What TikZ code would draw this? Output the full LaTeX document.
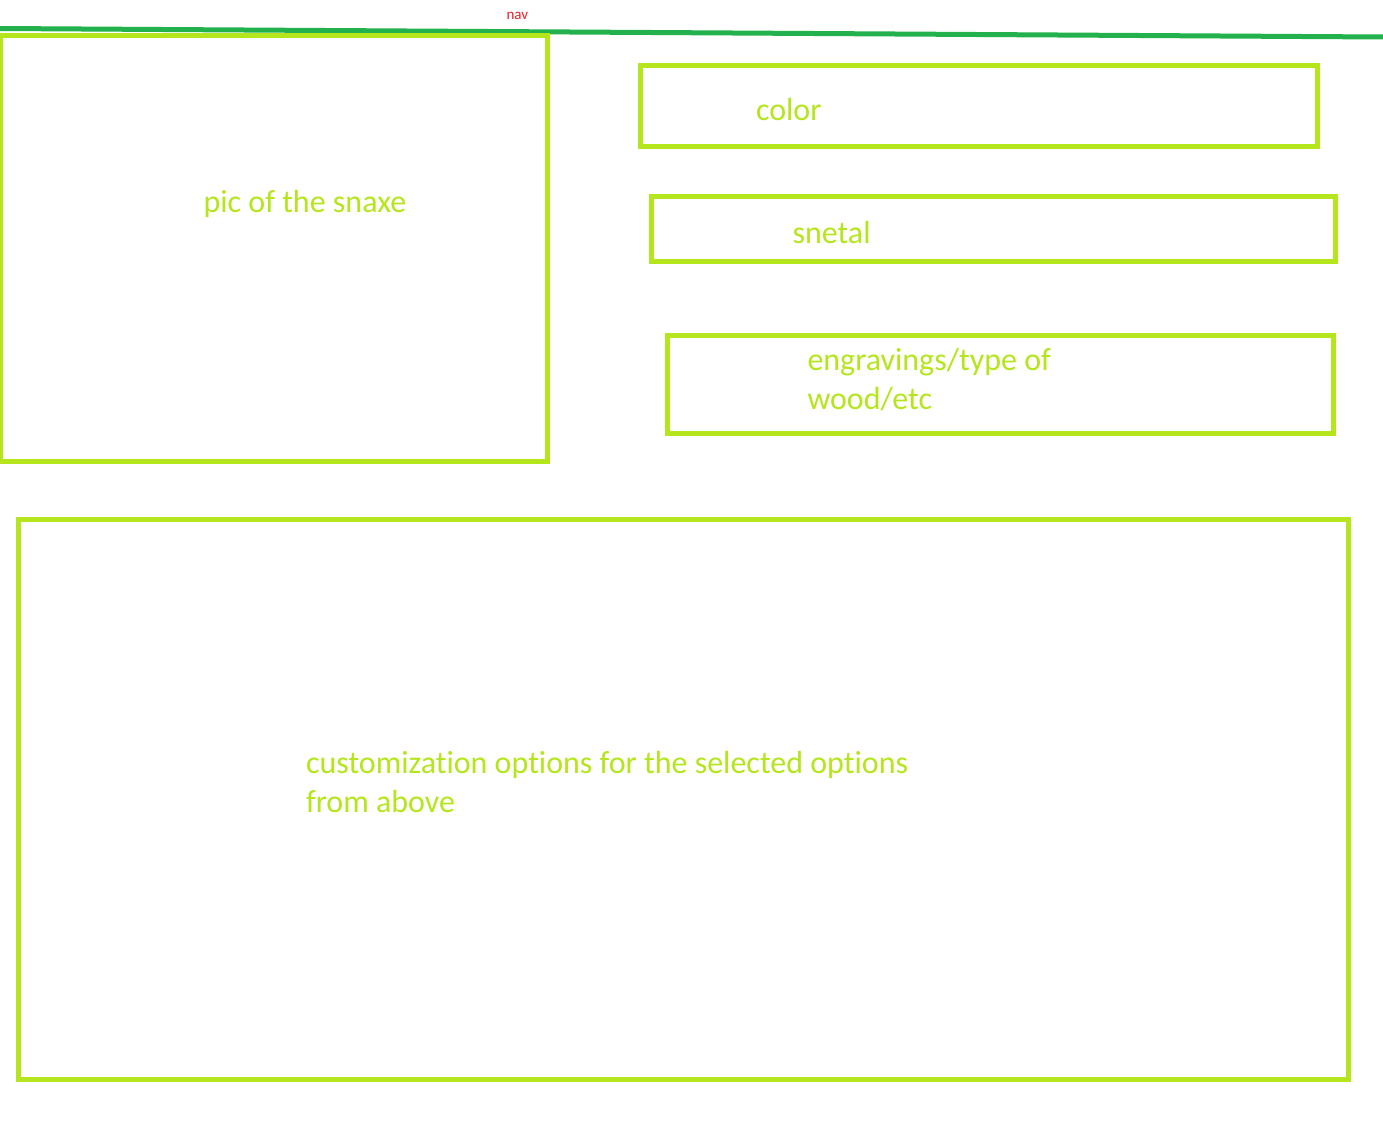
\documentclass[tikz,border=0pt]{standalone}
\usepackage{fontspec}
\setmainfont{Carlito}[Ligatures={NoCommon}]
\definecolor{limeline}{HTML}{B5E61D}
\definecolor{navgreen}{HTML}{22B14C}
\definecolor{navred}{HTML}{ED1C24}
\tikzset{
  box/.style={draw=limeline, line width=5pt, rectangle, inner sep=0pt, outer sep=0pt, anchor=north west},
  label/.style={text=limeline, inner sep=0pt, outer sep=0pt, anchor=base west, font=\fontsize{32pt}{39pt}\selectfont},
  navlabel/.style={text=navred, inner sep=0pt, outer sep=0pt, anchor=base west, font=\fontsize{15pt}{18pt}\selectfont},
}
\begin{document}
\begin{tikzpicture}[x=1pt,y=-1pt]
\useasboundingbox (0,0) rectangle (1383,1124);
\fill[white] (0,0) rectangle (1383,1124);
% nav line
\coordinate (navL) at (0,28.5);
\coordinate (navR) at (1383,37);
\draw[navgreen, line width=5pt] (navL) -- (navR);
\node[navlabel] (nav) at (506.5,20) {nav};
% boxes
\node[box, minimum width=547pt, minimum height=426pt] (pic) at (0.5,35.5) {};
\node[box, minimum width=677pt, minimum height=80.5pt] (color) at (640.5,65.5) {};
\node[box, minimum width=683.5pt, minimum height=64.5pt] (snetal) at (651.5,196.5) {};
\node[box, minimum width=665.5pt, minimum height=98.5pt] (engr) at (667.5,335) {};
\node[box, minimum width=1329.5pt, minimum height=560pt] (custom) at (18.5,519.5) {};
% labels
\node[label] (picT) at (203.5,212) {pic of the snaxe};
\node[label] (colorT) at (756,120) {color};
\node[label] (snetalT) at (792.5,243.5) {snetal};
\node[label] (engrT) at (807.5,370.5) {\vtop{\hbox{engravings/type of}\hbox{wood/etc}}};
\node[label] (customT) at (306,773.5) {\vtop{\hbox{customization options for the selected options}\hbox{from above}}};
\end{tikzpicture}
\end{document}
